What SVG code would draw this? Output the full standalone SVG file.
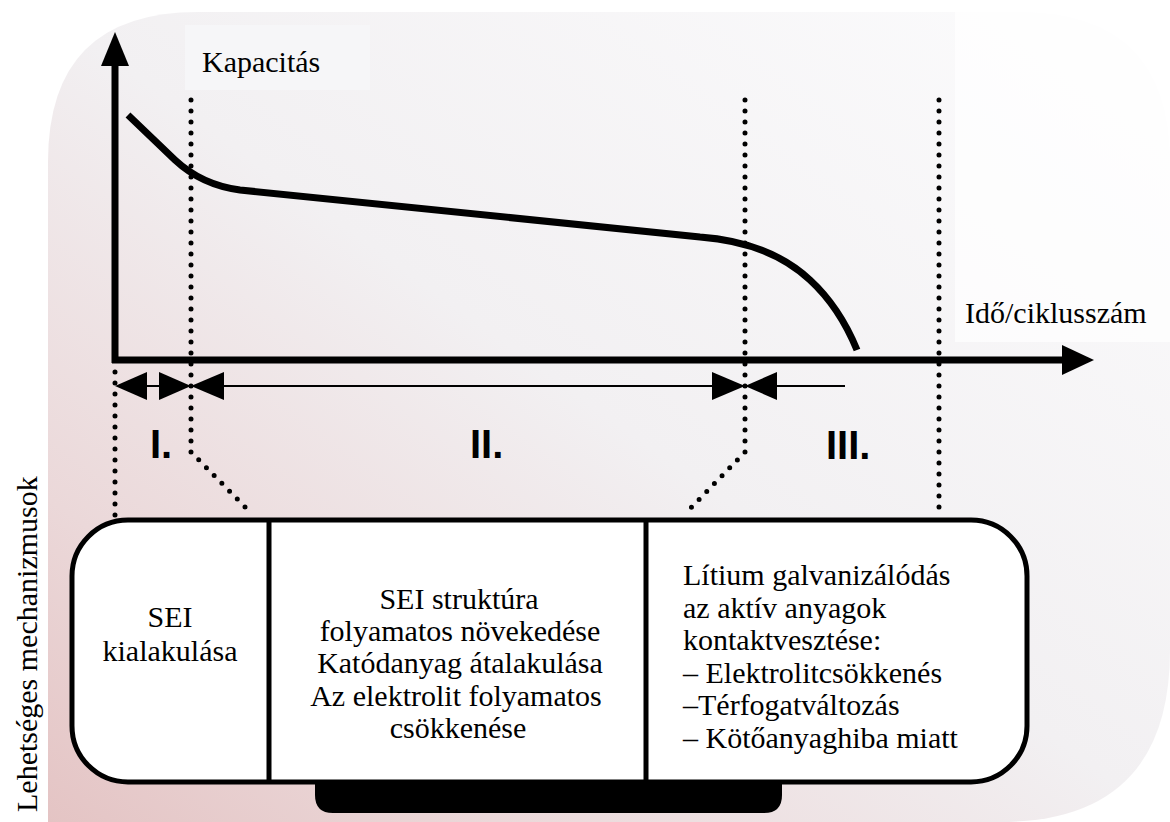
<svg xmlns="http://www.w3.org/2000/svg" width="1170" height="822" viewBox="0 0 1170 822">
  <defs>
    <linearGradient id="bg" x1="0" y1="1" x2="1" y2="0">
      <stop offset="0" stop-color="#e4c4c4"/>
      <stop offset="0.2" stop-color="#ebd8d9"/>
      <stop offset="0.5" stop-color="#f2f0f2"/>
      <stop offset="1" stop-color="#fcfcfd"/>
    </linearGradient>
    <style>
      .dot { fill: none; stroke: #000; stroke-width: 5; stroke-dasharray: 0 11; stroke-linecap: round; }
      .axis { fill: none; stroke: #000; stroke-width: 7; }
      .thin { fill: none; stroke: #000; stroke-width: 2; }
      .head { fill: #000; stroke: none; }
      .curve { fill: none; stroke: #000; stroke-width: 7; stroke-linejoin: round; }
      .box { fill: #fff; stroke: #000; stroke-width: 5; }
      .div { fill: none; stroke: #000; stroke-width: 5; }
      .t { font-size: 30px; fill: #000; }
      .rn { font-weight: bold; font-size: 40px; fill: #000; }
    </style>
  </defs>
  <rect x="0" y="0" width="1170" height="822" fill="#fff"/>
  <path id="background" d="M198,12 L1020,12 Q1170,12 1170,162 L1170,650 Q1170,822 1000,822 L48,822 L48,162 Q48,12 198,12 Z" fill="url(#bg)"/>
  <rect x="185" y="25" width="185" height="65" fill="#f6f6f8"/>
  <rect x="955" y="0" width="215" height="342" fill="#ffffff" opacity="0.7"/>

  <g id="connectors">
    <path class="dot" d="M115,372 L115,518"/>
    <path class="dot" d="M191,100 L191,452 L252,514"/>
    <path class="dot" d="M745,100 L745,452 L685,514"/>
    <path class="dot" d="M939,100 L939,518"/>
    <line class="axis" x1="115" y1="62" x2="115" y2="363"/>
    <polygon class="head" points="115,32 101,66 129,66"/>
    <line class="axis" x1="112" y1="360" x2="1064" y2="360"/>
    <polygon class="head" points="1094,360 1062,345 1062,375"/>
    <path class="curve" d="M128,115 L175,160 C190,174 210,186 240,190 L700,237 C740,240 780,252 810,280 C835,303 848,328 857,350"/>
    <line class="thin" x1="140" y1="386" x2="165" y2="386"/>
    <polygon class="head" points="115,386 147,372 147,400"/>
    <polygon class="head" points="191,386 159,372 159,400"/>
    <line class="thin" x1="220" y1="386" x2="716" y2="386"/>
    <polygon class="head" points="191,386 224,372 224,400"/>
    <polygon class="head" points="745,386 712,372 712,400"/>
    <line class="thin" x1="772" y1="386" x2="845" y2="386"/>
    <polygon class="head" points="745,386 777,372 777,400"/>
  </g>

  <g id="phase-labels" font-family="'Liberation Sans', Arial, sans-serif">
    <text class="rn" x="150" y="458">I.</text>
    <text class="rn" x="470" y="458">II.</text>
    <text class="rn" x="826" y="459">III.</text>
  </g>

  <g id="axis-labels" font-family="'Liberation Serif', 'Times New Roman', serif">
    <text class="t" x="202" y="72">Kapacitás</text>
    <text class="t" x="965" y="323">Idő/ciklusszám</text>
    <text class="t" transform="translate(37,812) rotate(-90)">Lehetséges mechanizmusok</text>
  </g>

  <g id="mechanism-box">
    <path class="head" d="M315,780 L782,780 L782,795 Q782,813 764,813 L333,813 Q315,813 315,795 Z"/>
    <rect class="box" x="72" y="520" width="955" height="262" rx="56" ry="56"/>
    <line class="div" x1="269" y1="520" x2="269" y2="782"/>
    <line class="div" x1="646" y1="520" x2="646" y2="782"/>
  </g>

  <g id="node-phase1" font-family="'Liberation Serif', 'Times New Roman', serif">
    <text class="t" text-anchor="middle" x="170" y="627">SEI</text>
    <text class="t" text-anchor="middle" x="170" y="661">kialakulása</text>
  </g>

  <g id="node-phase2" font-family="'Liberation Serif', 'Times New Roman', serif">
    <text class="t" text-anchor="middle" x="459" y="609">SEI struktúra</text>
    <text class="t" text-anchor="middle" x="460" y="641">folyamatos növekedése</text>
    <text class="t" text-anchor="middle" x="460" y="673">Katódanyag átalakulása</text>
    <text class="t" text-anchor="middle" x="456" y="706">Az elektrolit folyamatos</text>
    <text class="t" text-anchor="middle" x="458" y="738">csökkenése</text>
  </g>

  <g id="node-phase3" font-family="'Liberation Serif', 'Times New Roman', serif">
    <text class="t" x="683" y="585">Lítium galvanizálódás</text>
    <text class="t" x="683" y="618">az aktív anyagok</text>
    <text class="t" x="683" y="650">kontaktvesztése:</text>
    <text class="t" x="683" y="683">– Elektrolitcsökkenés</text>
    <text class="t" x="683" y="715">–Térfogatváltozás</text>
    <text class="t" x="683" y="748">– Kötőanyaghiba miatt</text>
  </g>
</svg>
